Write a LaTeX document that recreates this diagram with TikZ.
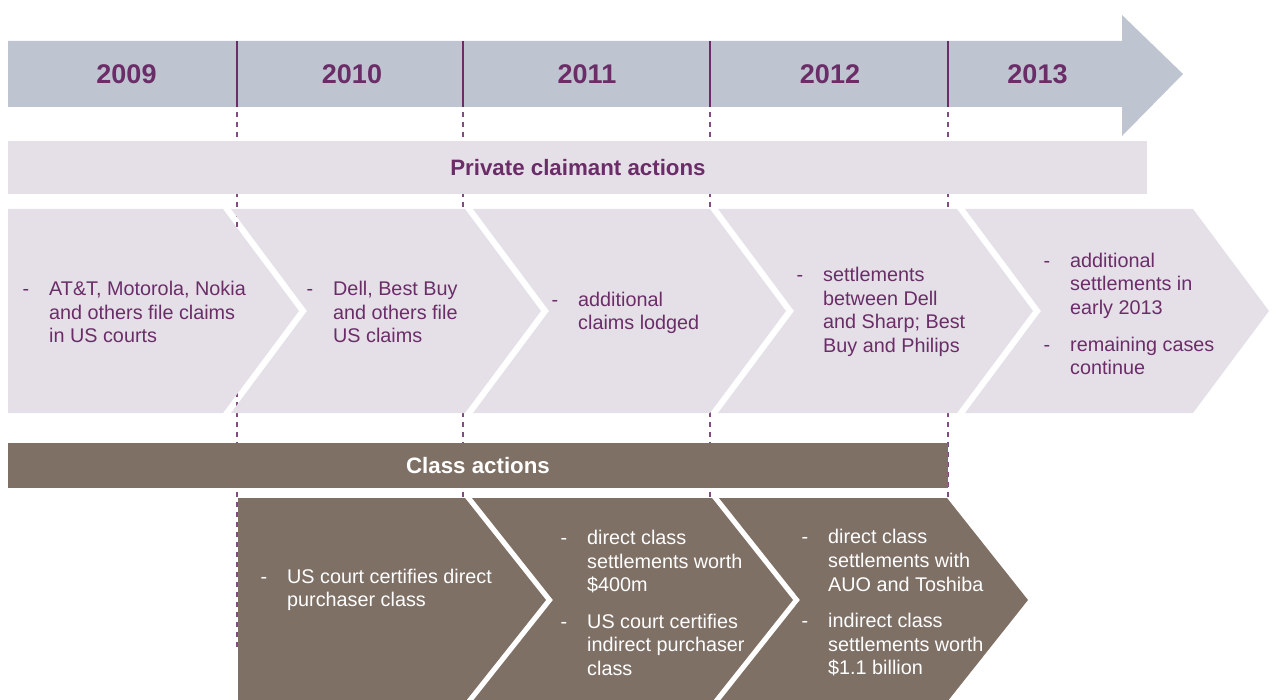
\documentclass[tikz,border=0pt]{standalone}
\usepackage{fontspec}
\setmainfont{Liberation Sans}
\definecolor{plum}{HTML}{6B2D68}
\definecolor{steel}{HTML}{BFC5D0}
\definecolor{lav}{HTML}{E5E0E8}
\definecolor{taupe}{HTML}{7F7066}
% chevron: colour, left x, right x, top y, bottom y, tip depth, notch depth
\newcommand{\chevron}[7]{%
  \fill[#1] (#2,#4) -- (#3,#4) -- ({#3+#6},{(#4+#5)/2}) -- (#3,#5) -- (#2,#5)
    -- ({#2+#7},{(#4+#5)/2}) -- cycle;}
\newcommand{\bul}{\llap{-\hspace{20pt}}}
\begin{document}
\begin{tikzpicture}[x=1pt,y=-1pt,
  year/.style={font=\fontsize{27}{32}\selectfont\bfseries, text=plum, inner sep=0pt},
  head/.style={font=\fontsize{22.3}{26}\selectfont\bfseries, inner sep=0pt},
  body/.style={font=\fontsize{19.8}{23.6}\selectfont, align=left, anchor=west, inner sep=0pt},
  divider/.style={draw=plum, line width=1.3pt},
  guide/.style={draw=plum!85, line width=1.1pt, dash pattern=on 5pt off 5pt, dash phase=5pt},
]
\useasboundingbox (0,0) rectangle (1279,700);
\begin{scope}
\clip (0,0) rectangle (1279,700);

% year guide lines (run behind the bands)
\foreach \x/\n in {237/a,463/b,710/c,948/d}{
  \coordinate (g\n t) at (\x,107);
  \coordinate (g\n b) at (\x,650);
  \draw[guide] (g\n t) -- (g\n b);
}

% timeline arrow
\fill[steel] (8,41) -- (1122,41) -- (1122,15) -- (1183,74) -- (1122,136)
  -- (1122,107) -- (8,107) -- cycle;
\foreach \x/\n in {237/a,463/b,710/c,948/d}{
  \coordinate (y\n t) at (\x,41);
  \draw[divider] (y\n t) -- (g\n t);
}
\node[year] (y2009) at (126.5,74) {2009};
\node[year] (y2010) at (352,74) {2010};
\node[year] (y2011) at (587,74) {2011};
\node[year] (y2012) at (830,74) {2012};
\node[year] (y2013) at (1037.5,74) {2013};

% private claimant actions
\fill[lav] (8,141) rectangle (1147,194);
\node[head, text=plum] (private) at (578,168) {Private claimant actions};

\chevron{lav}{8}{223}{209}{413}{76}{0}
\chevron{lav}{231}{465}{209}{413}{76}{76}
\chevron{lav}{473}{710}{209}{413}{76}{76}
\chevron{lav}{718}{957}{209}{413}{76}{76}
\chevron{lav}{965}{1193}{209}{413}{76}{76}

\begin{scope}[every node/.style={body, text=plum}]
\node (p1) at (49,312) {\bul AT\&T, Motorola, Nokia\\and others file claims\\in US courts};
\node (p2) at (333,312) {\bul Dell, Best Buy\\and others file\\US claims};
\node (p3) at (578,313) {\bul additional\\claims lodged};
\node (p4) at (823,312) {\bul settlements\\between Dell\\and Sharp; Best\\Buy and Philips};
\node (p5) at (1070,314) {\bul additional\\settlements in\\early 2013\\[13pt]\bul remaining cases\\continue};
\end{scope}

% class actions
\fill[taupe] (8,443) rectangle (948,488);
\node[head, text=white] (class) at (478,466) {Class actions};

\chevron{taupe}{238}{465}{498}{702}{81}{0}
\chevron{taupe}{472}{712}{498}{702}{81}{81}
\chevron{taupe}{719}{947}{498}{702}{81}{81}

\begin{scope}[every node/.style={body, text=white}]
\node (c1) at (287,590) {\bul US court certifies direct\\purchaser class};
\node (c2) at (587,603) {\bul direct class\\settlements worth\\\$400m\\[13pt]\bul US court certifies\\indirect purchaser\\class};
\node (c3) at (828,603) {\bul direct class\\settlements with\\AUO and Toshiba\\[13pt]\bul indirect class\\settlements worth\\\$1.1 billion};
\end{scope}
\end{scope}
\end{tikzpicture}
\end{document}
